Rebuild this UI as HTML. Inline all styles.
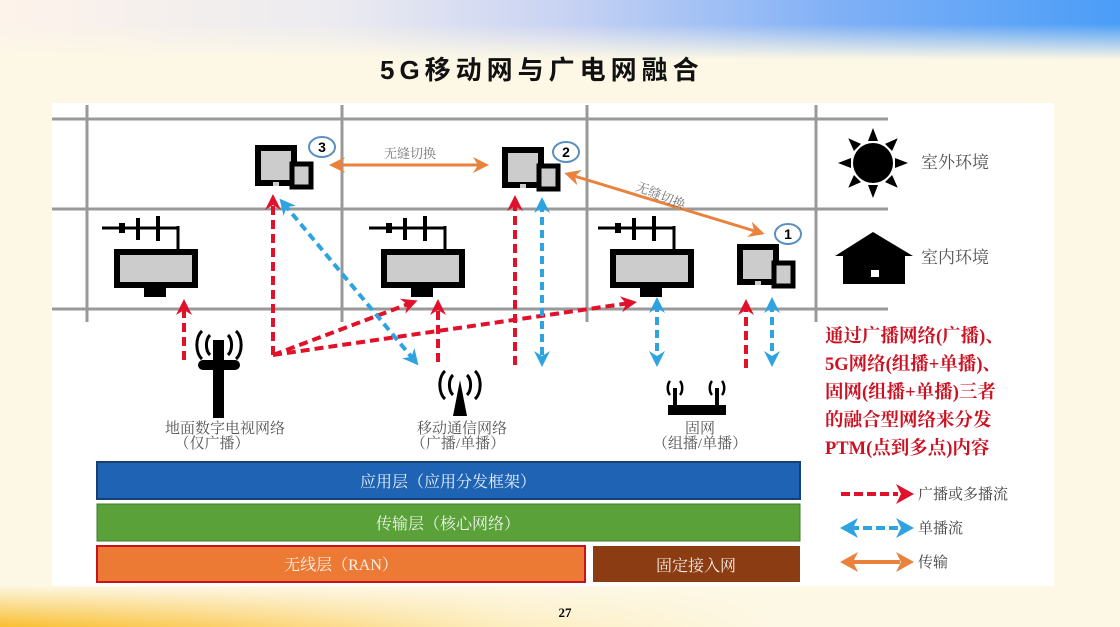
<!DOCTYPE html>
<html><head><meta charset="utf-8"><style>
html,body{margin:0;padding:0}
body{width:1120px;height:627px;overflow:hidden;position:relative;font-family:"Liberation Serif","Noto Serif CJK SC",serif;background:#fdf8e6;}
.topg{position:absolute;left:0;top:0;width:1120px;height:60px;background:linear-gradient(90deg,#fdf3ea 0%,#ecebf0 30%,#c9d3f3 50%,#7fb0f6 75%,#4a9df8 100%);}
.topg:after{content:"";position:absolute;left:0;top:0;right:0;bottom:0;background:linear-gradient(180deg,rgba(253,248,230,0) 40%,#fdf8e6 100%)}
.botg{position:absolute;left:0;top:585px;width:1120px;height:42px;background:linear-gradient(90deg,#f8bf30 0%,#fbd06a 20%,#fdeec0 45%,#fdf8e6 70%);}
.botg:after{content:"";position:absolute;left:0;top:0;right:0;bottom:0;background:linear-gradient(180deg,#fdf8e6 0%,rgba(253,248,230,0) 100%)}
.panel{position:absolute;left:52px;top:103px;width:1002px;height:483px;background:#fff}
.t{position:absolute;white-space:nowrap}
</style></head><body>
<div class="topg"></div><div class="botg"></div>
<div class="t" style="left:380px;top:50px;font-size:26px;font-weight:bold;font-family:'Liberation Sans','Noto Sans CJK SC',sans-serif;color:#111;letter-spacing:5px">5G移动网与广电网融合</div>
<div class="panel"></div>
<svg style="position:absolute;left:0;top:0" width="1120" height="627">
<defs>
<marker id="ar" markerWidth="16" markerHeight="16" refX="9" refY="8" orient="auto" markerUnits="userSpaceOnUse"><path d="M0,0 L16,8 L0,16 L5,8z" fill="#e0112a"/></marker>
<marker id="ab" markerWidth="16" markerHeight="16" refX="9" refY="8" orient="auto-start-reverse" markerUnits="userSpaceOnUse"><path d="M0,0 L16,8 L0,16 L5,8z" fill="#2ea3df"/></marker>
<marker id="ao" markerWidth="16" markerHeight="16" refX="9" refY="8" orient="auto-start-reverse" markerUnits="userSpaceOnUse"><path d="M0,0 L16,8 L0,16 L5,8z" fill="#e8823c"/></marker>
<g id="tv">
<line x1="0" y1="12" x2="76" y2="12" stroke="#000" stroke-width="3"/>
<rect x="17" y="7" width="6" height="10"/><rect x="34" y="2" width="4" height="22"/><rect x="54" y="0" width="4" height="25"/>
<line x1="76" y1="10" x2="76" y2="36" stroke="#000" stroke-width="3"/>
<rect x="15" y="36" width="78" height="33" fill="#ccc" stroke="#000" stroke-width="6"/>
<rect x="42" y="71" width="22" height="10"/>
</g>
<g id="tab">
<rect x="3" y="3" width="36" height="35" fill="#ccc" stroke="#000" stroke-width="6"/>
<rect x="37" y="19" width="19" height="23" fill="#ccc" stroke="#000" stroke-width="5"/>
<rect x="18" y="37" width="6" height="4" fill="#ccc"/>
</g>
</defs>
<g stroke="#999" stroke-width="3">
<line x1="52" y1="119" x2="888" y2="119"/><line x1="52" y1="209" x2="888" y2="209"/><line x1="52" y1="309" x2="888" y2="309"/>
<line x1="87" y1="105" x2="87" y2="322"/><line x1="342" y1="105" x2="342" y2="322"/><line x1="587" y1="105" x2="587" y2="322"/><line x1="816" y1="105" x2="816" y2="322"/>
</g>
<use href="#tv" x="102" y="216"/><use href="#tv" x="369" y="216"/><use href="#tv" x="598" y="216"/>
<use href="#tab" x="255" y="145"/><use href="#tab" x="502" y="147"/><use href="#tab" x="737" y="244"/>
<g fill="#fff" stroke="#5b8fc0" stroke-width="2"><ellipse cx="322" cy="147" rx="13" ry="10"/><ellipse cx="566" cy="152" rx="13" ry="10"/><ellipse cx="788" cy="234" rx="13" ry="10"/></g>
<g font-family="Liberation Sans" font-weight="bold" font-size="14" text-anchor="middle"><text x="322" y="152">3</text><text x="566" y="157">2</text><text x="788" y="239">1</text></g>
<g transform="translate(873,163)"><circle r="20"/><g fill="#000">
<path d="M-5,-22 L0,-35 L5,-22z"/><path d="M-5,22 L0,35 L5,22z"/><path d="M-22,-5 L-35,0 L-22,5z"/><path d="M22,-5 L35,0 L22,5z"/>
<g transform="rotate(45)"><path d="M-5,-22 L0,-35 L5,-22z"/><path d="M-5,22 L0,35 L5,22z"/><path d="M-22,-5 L-35,0 L-22,5z"/><path d="M22,-5 L35,0 L22,5z"/></g></g></g>
<path d="M835,256 L873,232 L913,256 L905,256 L905,284 L843,284 L843,256z"/>
<rect x="871" y="270" width="8" height="7" fill="#fff"/>
<g stroke="#e0112a" stroke-width="4" stroke-dasharray="9,5" fill="none" marker-end="url(#ar)">
<line x1="184" y1="360" x2="184" y2="306"/>
<line x1="273" y1="355" x2="273" y2="201"/>
<line x1="273" y1="355" x2="411" y2="303"/>
<line x1="273" y1="355" x2="630" y2="303"/>
<line x1="438" y1="362" x2="438" y2="306"/>
<line x1="515" y1="365" x2="515" y2="202"/>
<line x1="746" y1="368" x2="746" y2="306"/>
</g>
<g stroke="#2ea3df" stroke-width="4" stroke-dasharray="8,5" fill="none" marker-end="url(#ab)" marker-start="url(#ab)">
<line x1="284" y1="204" x2="414" y2="360"/>
<line x1="542" y1="204" x2="542" y2="360"/>
<line x1="657" y1="304" x2="657" y2="360"/>
<line x1="772" y1="304" x2="772" y2="360"/>
</g>
<g stroke="#e8823c" stroke-width="3" marker-end="url(#ao)" marker-start="url(#ao)">
<line x1="336" y1="165" x2="482" y2="165"/>
<line x1="571" y1="175" x2="758" y2="232"/>
</g>
<text x="410" y="158" font-size="13" fill="#777" text-anchor="middle" font-family="Liberation Serif,Noto Serif CJK SC,serif">无缝切换</text>
<text x="0" y="0" font-size="13" fill="#777" font-family="Liberation Serif,Noto Serif CJK SC,serif" transform="translate(635,190) rotate(22)">无缝切换</text>
<g transform="translate(218,0)">
<rect x="-5" y="340" width="11" height="78"/><rect x="-20" y="360" width="42" height="10" rx="5"/>
<g fill="none" stroke="#000" stroke-width="3"><path d="M-8,335 a8,12 0 0 0 0,20"/><path d="M-16,331 a10,16 0 0 0 0,28"/><path d="M10,335 a8,12 0 0 1 0,20"/><path d="M18,331 a10,16 0 0 1 0,28"/></g></g>
<g transform="translate(460,0)">
<path d="M-7,416 L0,380 L7,416z"/>
<g fill="none" stroke="#000" stroke-width="3"><path d="M-7,375 a8,12 0 0 0 0,20"/><path d="M-15,371 a10,16 0 0 0 0,28"/><path d="M7,375 a8,12 0 0 1 0,20"/><path d="M15,371 a10,16 0 0 1 0,28"/></g></g>
<g transform="translate(695,0)">
<rect x="-27" y="405" width="58" height="10"/><rect x="-22" y="388" width="4" height="18"/><rect x="20" y="388" width="4" height="18"/>
<g fill="none" stroke="#000" stroke-width="2.5"><path d="M-25,381 a6,9 0 0 0 0,14"/><path d="M-15,381 a6,9 0 0 1 0,14"/><path d="M17,381 a6,9 0 0 0 0,14"/><path d="M27,381 a6,9 0 0 1 0,14"/></g></g>
<g font-size="15" fill="#555" text-anchor="middle" font-family="Liberation Serif,Noto Serif CJK SC,serif">
<text x="225" y="433">地面数字电视网络</text><text x="212" y="448">（仅广播）</text>
<text x="462" y="433">移动通信网络</text><text x="458" y="448">（广播/单播）</text>
<text x="700" y="433">固网</text><text x="700" y="448">（组播/单播）</text>
<text x="955" y="168" font-size="17">室外环境</text><text x="955" y="263" font-size="17">室内环境</text>
</g>
<rect x="97" y="462" width="703" height="37" fill="#1f63b4" stroke="#17406f" stroke-width="2"/>
<rect x="97" y="504" width="703" height="37" fill="#5aa13a" stroke="#3f7a28" stroke-width="1"/>
<rect x="97" y="546" width="488" height="36" fill="#ec7a34" stroke="#c6121c" stroke-width="2"/>
<rect x="593" y="546" width="207" height="36" fill="#8b3c12"/>
<g fill="#fff" font-size="16" text-anchor="middle" font-family="Liberation Serif,Noto Serif CJK SC,serif" opacity="0.9">
<text x="448" y="487">应用层（应用分发框架）</text><text x="448" y="529">传输层（核心网络）</text>
<text x="341" y="570">无线层（RAN）</text><text x="696" y="571">固定接入网</text></g>
<line x1="841" y1="494" x2="898" y2="494" stroke="#e0112a" stroke-width="4" stroke-dasharray="9,4"/>
<path d="M896,484 L914,494 L896,504 L901,494z" fill="#e0112a"/>
<line x1="850" y1="528" x2="898" y2="528" stroke="#2ea3df" stroke-width="4" stroke-dasharray="9,4"/>
<path d="M896,518 L914,528 L896,538 L901,528z M858,518 L840,528 L858,538 L853,528z" fill="#2ea3df"/>
<line x1="850" y1="562" x2="900" y2="562" stroke="#e8823c" stroke-width="4"/>
<path d="M896,552 L914,562 L896,572 L901,562z M858,552 L840,562 L858,572 L853,562z" fill="#e8823c"/>
<g font-size="15" fill="#444" font-family="Liberation Serif,Noto Serif CJK SC,serif"><text x="918" y="499">广播或多播流</text><text x="918" y="533">单播流</text><text x="918" y="567">传输</text></g>
<g font-size="18.5" font-weight="bold" fill="#cc1222" font-family="Liberation Serif,Noto Serif CJK SC,serif">
<text x="825" y="342">通过广播网络(广播)、</text><text x="825" y="370">5G网络(组播+单播)、</text><text x="825" y="398">固网(组播+单播)三者</text><text x="825" y="426">的融合型网络来分发</text><text x="825" y="454">PTM(点到多点)内容</text></g>
<text x="565" y="617" font-size="13" font-weight="bold" text-anchor="middle">27</text>
</svg>
</body></html>
